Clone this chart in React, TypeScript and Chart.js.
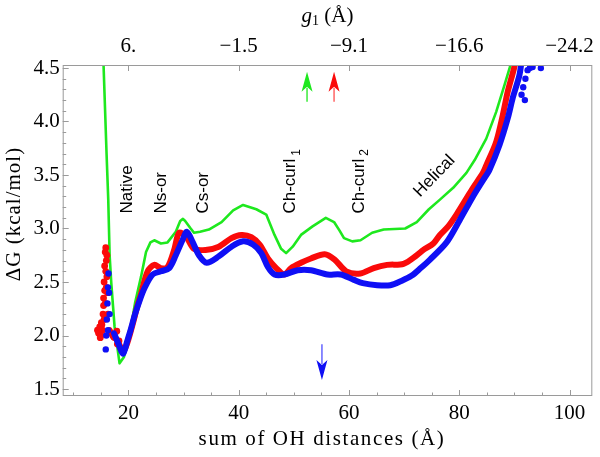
import React, { useEffect, useRef } from "react";
import { Chart, registerables } from "chart.js";

Chart.register(...registerables);

// ---------- axis ranges & ticks ----------
const xMin = 8.09;
const xMax = 104.13;
const yMin = 1.4346;
const yMax = 4.528;
const xMajorTicks = [20, 40, 60, 80, 100];
const topTickLabels = ["6.", "\u22121.5", "\u22129.1", "\u221216.6", "\u221224.2"];
const yMajorTicks = [1.5, 2.0, 2.5, 3.0, 3.5, 4.0, 4.5];

// ---------- series data ----------
const greenX = [15.45, 16.05, 16.35, 16.6, 16.9, 17.5, 18.4, 19.2, 20.2, 21.2, 22.3, 23.2, 24.0, 24.7, 25.9, 27.1, 28.6, 29.4, 29.9, 30.3, 31.3, 31.9, 33.0, 34.6, 36.9, 39.0, 40.8, 43.2, 45.0, 46.5, 47.7, 48.6, 49.8, 51.3, 53.4, 55.8, 57.3, 58.3, 59.1, 60.6, 62.1, 64.2, 66.3, 70.2, 72.3, 74.5, 76.5, 78.9, 81.3, 82.8, 84.9, 86.7, 88.2, 89.2, 89.6];
const greenY = [4.6, 3.69, 3.27, 2.75, 2.49, 2.08, 1.74, 1.80, 2.0, 2.3, 2.55, 2.78, 2.87, 2.89, 2.86, 2.87, 2.97, 3.07, 3.09, 3.07, 3.0, 2.96, 2.97, 2.99, 3.06, 3.17, 3.22, 3.18, 3.13, 2.94, 2.81, 2.77, 2.83, 2.94, 3.02, 3.10, 3.06, 2.98, 2.91, 2.88, 2.89, 2.96, 2.99, 3.0, 3.06, 3.18, 3.27, 3.38, 3.52, 3.64, 3.84, 4.09, 4.34, 4.51, 4.6];

const redX = [16.6, 17.3, 17.8, 18.5, 19.05, 19.8, 20.8, 21.5, 22.3, 23.5, 24.7, 25.9, 27.1, 28.3, 29.2, 30.4, 31.9, 34.0, 36.4, 38.7, 40.5, 42.3, 43.8, 45.3, 46.8, 48.3, 49.5, 51.3, 53.1, 55.6, 57.4, 59.5, 62.1, 64.5, 66.9, 69.9, 72.3, 73.5, 75.3, 76.5, 78.0, 79.5, 81.9, 82.5, 84.3, 84.9, 86.7, 87.9, 88.8, 89.95, 90.3];
const redY = [2.05, 1.98, 1.97, 1.90, 1.85, 1.93, 2.11, 2.25, 2.39, 2.60, 2.66, 2.63, 2.64, 2.80, 2.96, 2.93, 2.81, 2.80, 2.83, 2.91, 2.94, 2.92, 2.85, 2.72, 2.63, 2.57, 2.63, 2.68, 2.72, 2.76, 2.71, 2.60, 2.58, 2.63, 2.66, 2.67, 2.75, 2.80, 2.86, 2.94, 3.02, 3.13, 3.33, 3.38, 3.52, 3.59, 3.81, 4.06, 4.28, 4.50, 4.6];

const blueX = [17.4, 18.2, 19.05, 19.8, 20.4, 21.1, 22.0, 22.9, 24.4, 25.9, 27.4, 28.6, 29.8, 30.6, 31.6, 32.8, 34.2, 36.4, 38.7, 40.8, 42.6, 44.1, 45.3, 46.5, 48.3, 50.7, 53.1, 56.1, 58.5, 60.9, 62.5, 65.1, 67.5, 69.5, 71.4, 73.0, 74.7, 77.7, 80.1, 82.5, 84.3, 85.5, 87.3, 88.8, 89.7, 90.9, 91.4];
const blueY = [2.02, 1.92, 1.83, 1.95, 2.05, 2.18, 2.32, 2.44, 2.57, 2.60, 2.63, 2.75, 2.89, 2.97, 2.88, 2.75, 2.68, 2.74, 2.83, 2.88, 2.85, 2.77, 2.64, 2.57, 2.57, 2.61, 2.61, 2.57, 2.57, 2.52, 2.49, 2.47, 2.47, 2.51, 2.56, 2.63, 2.71, 2.87, 3.08, 3.30, 3.45, 3.55, 3.78, 4.03, 4.22, 4.43, 4.6];

// scattered sample points (noisy ends of the red / blue profiles)
const redCloudX = [14.4, 14.6, 14.8, 15.0, 15.1, 15.3, 15.4, 15.5, 15.6, 15.7, 15.8, 15.9, 16.0, 16.1, 16.2, 16.3, 15.6, 15.8, 16.0, 15.7, 15.9, 16.1, 15.5, 14.9, 15.2, 17.5, 18.0, 18.3, 17.9, 18.6];
const redCloudY = [2.05, 2.02, 2.08, 2.0, 2.12, 2.05, 2.2, 2.35, 2.5, 2.65, 2.78, 2.82, 2.7, 2.55, 2.4, 2.2, 2.15, 2.3, 2.45, 2.42, 2.6, 2.75, 2.28, 1.98, 2.1, 2.0, 1.92, 1.95, 2.04, 1.88];
const blueCloudX = [15.9, 16.0, 16.1, 16.2, 16.3, 16.4, 16.5, 16.3, 16.6, 91.3, 91.6, 92.0, 92.4, 92.8, 93.3, 94.8, 91.9];
const blueCloudY = [1.87, 2.0, 2.15, 2.3, 2.45, 2.58, 2.4, 2.05, 2.2, 4.25, 4.32, 4.40, 4.48, 4.5, 4.51, 4.5, 4.2];

// ---------- annotations ----------
const arrowX = [52.4, 57.3, 55.1];
const arrowFrom = [4.185, 4.185, 1.918];
const arrowTo = [4.465, 4.465, 1.584];

const vLabelText = ["Native", "Ns-or", "Cs-or", "Ch-curl", "Ch-curl"];
const vLabelSub = ["", "", "", "1", "2"];
const vLabelX = [19.78, 26.0, 33.65, 49.4, 61.8];
const vLabelY = [3.14, 3.14, 3.14, 3.14, 3.14];
const diagLabelText = "Helical";
const diagLabelX = 75.5;
const diagLabelY = 3.49;

// ---------- styles ----------
const GREEN = "rgb(30,232,30)";
const RED = "rgb(250,10,10)";
const BLUE = "rgb(15,15,245)";
const arrowColors = [GREEN, RED, BLUE];
const arrowShaftColors = ["rgb(70,235,70)", "rgb(255,110,110)", "rgb(110,110,255)"];
const FRAME = "#9a9a9a";
const SERIF = "'Liberation Serif', 'DejaVu Serif', serif";
const SANS = "'Liberation Sans', Arial, sans-serif";

const pts = (xs: number[], ys: number[]) => xs.map((x, i) => ({ x, y: ys[i] }));

const decorPlugin = {
  id: "decor",
  afterDraw(chart: any) {
    const { ctx, chartArea: a, scales } = chart;
    const xs = scales.x;
    const ys = scales.y;
    ctx.save();

    // frame
    ctx.strokeStyle = FRAME;
    ctx.lineWidth = 1;
    ctx.strokeRect(a.left + 0.5, a.top + 0.5, a.right - a.left - 1, a.bottom - a.top - 1);

    // ticks (inward)
    ctx.beginPath();
    for (let v = 10; v <= 100; v += 5) {
      const px = Math.round(xs.getPixelForValue(v)) + 0.5;
      const len = v % 20 === 0 ? 6 : 3.5;
      ctx.moveTo(px, a.bottom);
      ctx.lineTo(px, a.bottom - len);
      if (v % 20 === 0) {
        ctx.moveTo(px, a.top);
        ctx.lineTo(px, a.top + len);
      }
    }
    for (let k = 15; k <= 45; k++) {
      const v = k / 10;
      const py = Math.round(ys.getPixelForValue(v)) + 0.5;
      const len = k % 5 === 0 ? 6 : 3.5;
      ctx.moveTo(a.left, py);
      ctx.lineTo(a.left + len, py);
    }
    ctx.stroke();

    // clip for annotations
    ctx.save();
    ctx.beginPath();
    ctx.rect(a.left, a.top, a.right - a.left, a.bottom - a.top);
    ctx.clip();

    // arrows
    arrowX.forEach((xv, i) => {
      const px = xs.getPixelForValue(xv);
      const y0 = ys.getPixelForValue(arrowFrom[i]);
      const y1 = ys.getPixelForValue(arrowTo[i]);
      const dir = Math.sign(y1 - y0);
      const headLen = 20;
      const headW = 5.5;
      ctx.strokeStyle = arrowShaftColors[i];
      ctx.lineWidth = 1.6;
      ctx.beginPath();
      ctx.moveTo(px, y0);
      ctx.lineTo(px, y1 - dir * (headLen - 4));
      ctx.stroke();
      ctx.fillStyle = arrowColors[i];
      ctx.beginPath();
      ctx.moveTo(px, y1);
      ctx.lineTo(px - headW, y1 - dir * headLen);
      ctx.lineTo(px, y1 - dir * (headLen - 5));
      ctx.lineTo(px + headW, y1 - dir * headLen);
      ctx.closePath();
      ctx.fill();
    });

    // vertical labels
    ctx.fillStyle = "#000";
    vLabelText.forEach((t, i) => {
      const px = xs.getPixelForValue(vLabelX[i]);
      const py = ys.getPixelForValue(vLabelY[i]);
      ctx.save();
      ctx.translate(px, py);
      ctx.rotate(-Math.PI / 2);
      ctx.font = `17px ${SANS}`;
      ctx.textAlign = "left";
      ctx.textBaseline = "middle";
      ctx.fillText(t, 0, 0);
      if (vLabelSub[i]) {
        const w = ctx.measureText(t).width;
        ctx.font = `12px ${SANS}`;
        ctx.fillText(vLabelSub[i], w + 3, 6);
      }
      ctx.restore();
    });

    // diagonal label
    {
      const px = xs.getPixelForValue(diagLabelX);
      const py = ys.getPixelForValue(diagLabelY);
      ctx.save();
      ctx.translate(px, py);
      ctx.rotate(-46 * Math.PI / 180);
      ctx.font = `17px ${SANS}`;
      ctx.textAlign = "center";
      ctx.textBaseline = "middle";
      ctx.fillText(diagLabelText, 0, 0);
      ctx.restore();
    }
    ctx.restore();

    // axis titles
    ctx.fillStyle = "#000";
    ctx.font = `21px ${SERIF}`;
    ctx.textAlign = "center";
    ctx.textBaseline = "middle";
    const cx = (a.left + a.right) / 2;
    (ctx as any).letterSpacing = "1.6px";
    ctx.fillText("sum of OH distances (\u00C5)", 322, 439);

    ctx.save();
    ctx.translate(14, 214);
    ctx.rotate(-Math.PI / 2);
    (ctx as any).letterSpacing = "1px";
    ctx.fillText("\u0394G (kcal/mol)", 0, 0);
    ctx.restore();
    (ctx as any).letterSpacing = "0px";

    // g1 (Å)
    ctx.textAlign = "left";
    ctx.font = `italic 21px ${SERIF}`;
    const wg = ctx.measureText("g").width;
    ctx.font = `14px ${SERIF}`;
    const w1 = ctx.measureText("1").width;
    ctx.font = `21px ${SERIF}`;
    const wr = ctx.measureText(" (\u00C5)").width;
    let sx = cx - (wg + w1 + wr) / 2;
    const ty = 16;
    ctx.font = `italic 21px ${SERIF}`;
    ctx.fillText("g", sx, ty);
    sx += wg;
    ctx.font = `14px ${SERIF}`;
    ctx.fillText("1", sx, ty + 5);
    sx += w1;
    ctx.font = `21px ${SERIF}`;
    ctx.fillText(" (\u00C5)", sx, ty);

    ctx.restore();
  },
};

export default function App() {
  const ref = useRef<HTMLCanvasElement>(null);
  useEffect(() => {
    const tickFont = { family: SERIF, size: 21 };
    const chart = new Chart(ref.current as HTMLCanvasElement, {
      type: "line",
      data: {
        datasets: [
          {
            type: "scatter",
            data: pts(blueCloudX, blueCloudY),
            backgroundColor: BLUE,
            borderWidth: 0,
            pointRadius: 3.2,
            showLine: false,
            clip: 0,
          } as any,
          {
            data: pts(blueX, blueY),
            borderColor: BLUE,
            borderWidth: 6,
            pointRadius: 0,
            borderJoinStyle: "round",
            borderCapStyle: "round",
            tension: 0.3,
            clip: 0,
          } as any,
          {
            type: "scatter",
            data: pts(redCloudX, redCloudY),
            backgroundColor: RED,
            borderWidth: 0,
            pointRadius: 3.4,
            showLine: false,
            clip: 0,
          } as any,
          {
            data: pts(redX, redY),
            borderColor: RED,
            borderWidth: 6,
            pointRadius: 0,
            borderJoinStyle: "round",
            borderCapStyle: "round",
            tension: 0.3,
            clip: 0,
          } as any,
          {
            data: pts(greenX, greenY),
            borderColor: GREEN,
            borderWidth: 2.6,
            pointRadius: 0,
            borderJoinStyle: "round",
            tension: 0,
            clip: 0,
          } as any,
        ],
      },
      options: {
        responsive: false,
        animation: false,
        devicePixelRatio: 1,
        layout: { padding: { left: 0, right: 2.7, top: 0, bottom: 0 } },
        plugins: { legend: { display: false }, tooltip: { enabled: false } },
        scales: {
          x: {
            type: "linear",
            position: "bottom",
            min: xMin,
            max: xMax,
            afterBuildTicks: (s: any) => {
              s.ticks = xMajorTicks.map((v) => ({ value: v }));
            },
            afterFit: (s: any) => {
              s.height = 61;
            },
            grid: { display: false, drawTicks: false },
            border: { display: false },
            ticks: {
              padding: 5,
              color: "#000",
              font: tickFont,
              maxRotation: 0,
              autoSkip: false,
              callback: (v: any) => String(v),
            },
          },
          x2: {
            type: "linear",
            position: "top",
            min: xMin,
            max: xMax,
            afterBuildTicks: (s: any) => {
              s.ticks = xMajorTicks.map((v) => ({ value: v }));
            },
            afterFit: (s: any) => {
              s.height = 65;
            },
            grid: { display: false, drawTicks: false },
            border: { display: false },
            ticks: {
              padding: 6,
              color: "#000",
              font: tickFont,
              maxRotation: 0,
              autoSkip: false,
              callback: (_v: any, i: number) => topTickLabels[i],
            },
          },
          y: {
            type: "linear",
            position: "left",
            min: yMin,
            max: yMax,
            afterBuildTicks: (s: any) => {
              s.ticks = yMajorTicks.map((v) => ({ value: v }));
            },
            afterFit: (s: any) => {
              s.width = 62.7;
            },
            grid: { display: false, drawTicks: false },
            border: { display: false },
            ticks: {
              padding: 3,
              color: "#000",
              font: tickFont,
              autoSkip: false,
              callback: (v: any) => Number(v).toFixed(1),
            },
          },
        },
      } as any,
      plugins: [decorPlugin],
    });
    return () => chart.destroy();
  }, []);
  return (
    <div style={{ position: "fixed", left: 0, top: 0, width: 600, height: 457, background: "#fff" }}>
      <canvas ref={ref} width={600} height={457} />
    </div>
  );
}
